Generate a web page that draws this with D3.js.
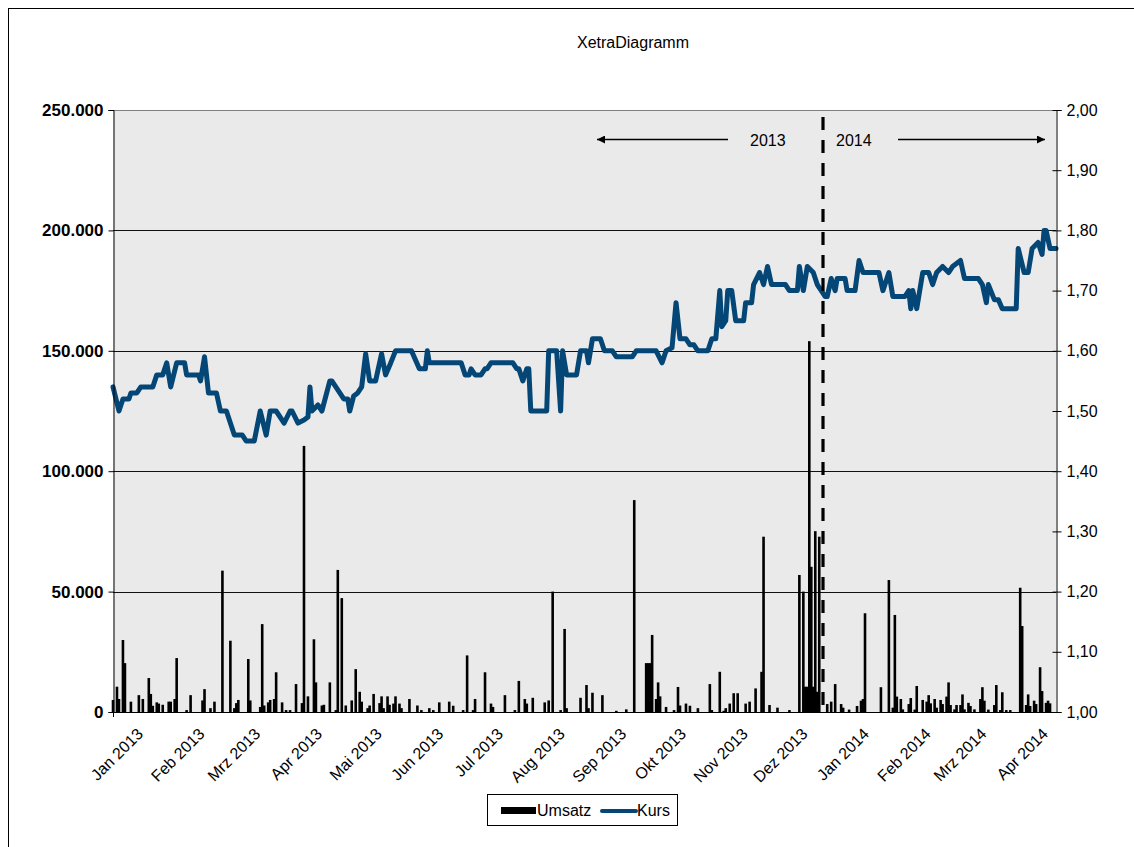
<!DOCTYPE html>
<html>
<head>
<meta charset="utf-8">
<script src="https://cdn.jsdelivr.net/npm/d3@7"></script>
<style>
  body { margin: 0; background: #fff; }
  svg { display: block; font-family: "Liberation Sans", Arial, sans-serif; }
</style>
</head>
<body>
<script>
// month names as shown on the axis
const months = ["Jan", "Feb", "Mrz", "Apr", "Mai", "Jun", "Jul", "Aug", "Sep", "Okt", "Nov", "Dez"];

// daily share price (Kurs), right axis
const kurs = [
  ["2013-01-01",1.54],["2013-01-04",1.50],["2013-01-06",1.52],["2013-01-09",1.52],["2013-01-10",1.53],["2013-01-13",1.53],
  ["2013-01-15",1.54],["2013-01-21",1.54],["2013-01-23",1.56],["2013-01-26",1.56],["2013-01-28",1.58],["2013-01-30",1.54],
  ["2013-02-02",1.58],["2013-02-06",1.58],["2013-02-07",1.56],["2013-02-13",1.56],["2013-02-14",1.55],["2013-02-16",1.59],
  ["2013-02-18",1.53],["2013-02-22",1.53],["2013-02-24",1.50],["2013-02-27",1.50],["2013-03-03",1.46],["2013-03-07",1.46],
  ["2013-03-09",1.45],["2013-03-13",1.45],["2013-03-16",1.50],["2013-03-19",1.46],["2013-03-21",1.50],["2013-03-24",1.50],
  ["2013-03-28",1.48],["2013-03-31",1.50],["2013-04-01",1.50],["2013-04-04",1.48],["2013-04-07",1.485],["2013-04-09",1.49],
  ["2013-04-10",1.54],["2013-04-11",1.50],["2013-04-14",1.51],["2013-04-16",1.50],["2013-04-20",1.55],["2013-04-21",1.55],
  ["2013-04-25",1.53],["2013-04-27",1.52],["2013-04-29",1.52],["2013-04-30",1.50],["2013-05-02",1.525],["2013-05-04",1.53],
  ["2013-05-06",1.54],["2013-05-08",1.595],["2013-05-10",1.55],["2013-05-13",1.55],["2013-05-16",1.595],["2013-05-18",1.56],
  ["2013-05-20",1.575],["2013-05-23",1.60],["2013-05-31",1.60],["2013-06-04",1.57],["2013-06-07",1.57],["2013-06-08",1.60],
  ["2013-06-09",1.58],["2013-06-25",1.58],["2013-06-27",1.56],["2013-06-29",1.56],["2013-06-30",1.57],["2013-07-02",1.56],
  ["2013-07-05",1.56],["2013-07-07",1.57],["2013-07-08",1.57],["2013-07-10",1.58],["2013-07-21",1.58],["2013-07-23",1.57],
  ["2013-07-24",1.57],["2013-07-26",1.55],["2013-07-28",1.57],["2013-07-29",1.57],["2013-07-30",1.50],["2013-08-07",1.50],
  ["2013-08-08",1.60],["2013-08-12",1.60],["2013-08-14",1.50],["2013-08-15",1.60],["2013-08-17",1.56],["2013-08-22",1.56],
  ["2013-08-24",1.60],["2013-08-27",1.60],["2013-08-28",1.58],["2013-08-30",1.62],["2013-09-03",1.62],["2013-09-05",1.60],
  ["2013-09-09",1.60],["2013-09-11",1.59],["2013-09-19",1.59],["2013-09-21",1.60],["2013-10-01",1.60],["2013-10-04",1.58],
  ["2013-10-06",1.60],["2013-10-09",1.605],["2013-10-11",1.68],["2013-10-13",1.62],["2013-10-16",1.62],["2013-10-18",1.61],
  ["2013-10-20",1.61],["2013-10-22",1.60],["2013-10-27",1.60],["2013-10-29",1.62],["2013-10-31",1.62],["2013-11-02",1.70],
  ["2013-11-03",1.64],["2013-11-05",1.65],["2013-11-06",1.70],["2013-11-08",1.70],["2013-11-10",1.65],["2013-11-14",1.65],
  ["2013-11-15",1.68],["2013-11-18",1.68],["2013-11-19",1.71],["2013-11-22",1.73],["2013-11-24",1.71],["2013-11-26",1.74],
  ["2013-11-28",1.71],["2013-12-05",1.71],["2013-12-07",1.70],["2013-12-11",1.70],["2013-12-12",1.74],["2013-12-14",1.70],
  ["2013-12-16",1.74],["2013-12-19",1.73],["2013-12-21",1.71],["2013-12-25",1.69],["2013-12-26",1.69],["2013-12-28",1.72],
  ["2013-12-30",1.70],["2013-12-31",1.72],["2014-01-04",1.72],["2014-01-05",1.70],["2014-01-09",1.70],["2014-01-11",1.75],
  ["2014-01-13",1.73],["2014-01-21",1.73],["2014-01-23",1.70],["2014-01-26",1.73],["2014-01-28",1.69],["2014-02-03",1.69],
  ["2014-02-05",1.70],["2014-02-06",1.67],["2014-02-07",1.70],["2014-02-09",1.67],["2014-02-12",1.73],["2014-02-15",1.73],
  ["2014-02-17",1.71],["2014-02-19",1.73],["2014-02-22",1.74],["2014-02-25",1.73],["2014-02-27",1.74],["2014-03-03",1.75],
  ["2014-03-05",1.72],["2014-03-12",1.72],["2014-03-14",1.71],["2014-03-16",1.68],["2014-03-17",1.71],["2014-03-20",1.685],
  ["2014-03-22",1.685],["2014-03-24",1.67],["2014-03-31",1.67],["2014-04-01",1.77],["2014-04-04",1.73],["2014-04-06",1.73],
  ["2014-04-08",1.77],["2014-04-11",1.78],["2014-04-13",1.76],["2014-04-14",1.80],["2014-04-15",1.80],["2014-04-17",1.77],
  ["2014-04-20",1.77]
];

// daily turnover (Umsatz), left axis
const umsatz = [
  ["2013-01-01",5000],["2013-01-03",10500],["2013-01-04",5400],["2013-01-06",29900],["2013-01-07",20300],["2013-01-10",4300],
  ["2013-01-14",7000],["2013-01-16",5400],["2013-01-19",14100],["2013-01-20",7500],["2013-01-21",2600],["2013-01-23",4000],
  ["2013-01-24",3500],["2013-01-26",3000],["2013-01-29",4300],["2013-01-30",4300],["2013-02-01",5400],["2013-02-02",22400],
  ["2013-02-07",800],["2013-02-09",7000],["2013-02-15",4800],["2013-02-16",9500],["2013-02-19",1600],["2013-02-21",4300],
  ["2013-02-25",58700],["2013-03-01",29600],["2013-03-03",1600],["2013-03-04",3700],["2013-03-05",5000],["2013-03-10",22000],
  ["2013-03-11",4800],["2013-03-16",2100],["2013-03-17",36500],["2013-03-18",2700],["2013-03-20",4000],["2013-03-21",5000],
  ["2013-03-23",5400],["2013-03-24",16500],["2013-03-27",4000],["2013-03-29",800],["2013-03-31",800],["2013-04-03",11600],
  ["2013-04-06",3700],["2013-04-07",110500],["2013-04-09",6500],["2013-04-12",30200],["2013-04-13",12300],["2013-04-16",2700],
  ["2013-04-17",3000],["2013-04-20",12300],["2013-04-23",800],["2013-04-24",59000],["2013-04-26",47300],["2013-04-28",2700],
  ["2013-05-01",4800],["2013-05-03",17800],["2013-05-05",8400],["2013-05-06",4300],["2013-05-09",1600],["2013-05-10",2700],
  ["2013-05-12",7500],["2013-05-15",3700],["2013-05-16",6500],["2013-05-17",1600],["2013-05-19",6500],["2013-05-20",3000],
  ["2013-05-22",3500],["2013-05-23",6500],["2013-05-25",3500],["2013-05-26",1600],["2013-05-30",5400],["2013-06-03",2700],
  ["2013-06-05",800],["2013-06-09",1600],["2013-06-11",800],["2013-06-14",4000],["2013-06-19",4300],["2013-06-21",2600],
  ["2013-06-26",800],["2013-06-28",23500],["2013-07-01",800],["2013-07-02",5400],["2013-07-07",16500],["2013-07-10",3500],
  ["2013-07-11",2100],["2013-07-17",7000],["2013-07-22",800],["2013-07-24",12900],["2013-07-27",5400],["2013-07-28",3500],
  ["2013-07-31",5900],["2013-08-06",4000],["2013-08-08",4800],["2013-08-10",50000],["2013-08-14",800],["2013-08-16",34500],
  ["2013-08-17",1600],["2013-08-24",5900],["2013-08-27",11200],["2013-08-28",1600],["2013-08-30",8000],["2013-09-04",7000],
  ["2013-09-11",500],["2013-09-16",1100],["2013-09-20",88000],["2013-09-26",20300],["2013-09-27",20300],["2013-09-28",20300],
  ["2013-09-29",32000],["2013-10-01",5400],["2013-10-02",12300],["2013-10-03",6500],["2013-10-06",2100],["2013-10-10",800],
  ["2013-10-12",10400],["2013-10-13",2700],["2013-10-16",3500],["2013-10-18",2600],["2013-10-22",1600],["2013-10-28",11600],
  ["2013-10-29",800],["2013-11-02",16700],["2013-11-04",500],["2013-11-05",1600],["2013-11-07",3500],["2013-11-09",7800],
  ["2013-11-11",7800],["2013-11-15",3500],["2013-11-17",4300],["2013-11-20",9800],["2013-11-23",16700],["2013-11-24",72800],
  ["2013-11-27",2900],["2013-12-01",1800],["2013-12-07",800],["2013-12-12",56900],["2013-12-14",50000],["2013-12-15",10500],
  ["2013-12-16",10500],["2013-12-17",154000],["2013-12-18",60300],["2013-12-19",10500],["2013-12-20",75100],["2013-12-21",8400],
  ["2013-12-22",72800],["2013-12-26",3300],["2013-12-28",4300],["2013-12-30",11600],["2014-01-02",3300],["2014-01-03",1800],
  ["2014-01-06",1000],["2014-01-10",2500],["2014-01-12",4700],["2014-01-13",5400],["2014-01-14",41000],["2014-01-22",10300],
  ["2014-01-26",54800],["2014-01-28",1800],["2014-01-29",40300],["2014-01-30",6400],["2014-02-01",5400],["2014-02-02",1100],
  ["2014-02-05",3300],["2014-02-06",5800],["2014-02-08",1000],["2014-02-09",10800],["2014-02-12",5000],["2014-02-14",4300],
  ["2014-02-15",7000],["2014-02-16",3600],["2014-02-18",5400],["2014-02-19",1800],["2014-02-21",5000],["2014-02-22",3300],
  ["2014-02-24",6400],["2014-02-25",12300],["2014-02-26",2900],["2014-02-28",1100],["2014-03-01",2900],["2014-03-03",2900],
  ["2014-03-04",7300],["2014-03-05",1100],["2014-03-07",3800],["2014-03-08",2500],["2014-03-10",1100],["2014-03-13",5400],
  ["2014-03-14",10300],["2014-03-15",4700],["2014-03-17",1000],["2014-03-20",2900],["2014-03-21",11200],["2014-03-23",800],
  ["2014-03-24",8200],["2014-03-26",800],["2014-03-28",800],["2014-04-02",51600],["2014-04-03",35700],["2014-04-05",2900],
  ["2014-04-06",7300],["2014-04-07",2500],["2014-04-09",4700],["2014-04-10",3300],["2014-04-12",18600],["2014-04-13",8700],
  ["2014-04-15",3800],["2014-04-16",4700],["2014-04-17",3600]
];

const dateRange = ["2013-01-01", "2014-04-20"];
const yearSplit = "2013-12-24";
const yearLabels = ["2013", "2014"];
const leftTicks = [0, 50000, 100000, 150000, 200000, 250000];
const rightTicks = [1.0, 1.1, 1.2, 1.3, 1.4, 1.5, 1.6, 1.7, 1.8, 1.9, 2.0];

const W = 1134, H = 847;
const plot = { left: 113, right: 1056, top: 110, bottom: 712 };
const parse = d3.utcParse("%Y-%m-%d");
const de = d3.formatLocale({ decimal: ",", thousands: ".", grouping: [3], currency: ["", " €"] });
const fmtLeft = de.format(",d"), fmtRight = de.format(",.2f");

const svg = d3.select("body").append("svg")
  .attr("width", W)
  .attr("height", H);

// outer chart frame
svg.append("rect")
  .attr("x", 8.5).attr("y", 8.5)
  .attr("width", W + 20).attr("height", H + 20)
  .attr("fill", "#fff").attr("stroke", "#000");

svg.append("text")
  .attr("x", 633).attr("y", 48)
  .attr("text-anchor", "middle")
  .attr("font-size", 16)
  .text("XetraDiagramm");

// scales
const x = d3.scaleUtc().domain(dateRange.map(parse)).range([plot.left, plot.right]);
const yL = d3.scaleLinear().domain([0, 250000]).range([plot.bottom, plot.top]);
const yR = d3.scaleLinear().domain([1, 2]).range([plot.bottom, plot.top]);

// plot area
svg.append("rect")
  .attr("x", plot.left).attr("y", plot.top)
  .attr("width", plot.right - plot.left).attr("height", plot.bottom - plot.top)
  .attr("fill", "#eaeaea");

svg.append("line")
  .attr("x1", plot.left).attr("x2", plot.right)
  .attr("y1", plot.top + 0.5).attr("y2", plot.top + 0.5)
  .attr("stroke", "#808080");

// gridlines
svg.append("g")
  .selectAll("line")
  .data(leftTicks.slice(1, -1))
  .enter().append("line")
  .attr("x1", plot.left).attr("x2", plot.right)
  .attr("y1", d => Math.round(yL(d)) + 0.5).attr("y2", d => Math.round(yL(d)) + 0.5)
  .attr("stroke", "#111");

// Umsatz bars
svg.append("g")
  .selectAll("rect")
  .data(umsatz)
  .enter().append("rect")
  .attr("x", d => x(parse(d[0])) - 1.3)
  .attr("width", 2.6)
  .attr("y", d => yL(d[1]))
  .attr("height", d => plot.bottom - yL(d[1]))
  .attr("fill", "#000");

// Kurs line
const line = d3.line()
  .x(d => x(parse(d[0])))
  .y(d => yR(d[1]));
svg.append("path")
  .datum(kurs)
  .attr("d", line)
  .attr("fill", "none")
  .attr("stroke", "#044675")
  .attr("stroke-width", 5)
  .attr("stroke-linejoin", "round")
  .attr("stroke-linecap", "round");

// left axis
const axL = svg.append("g").attr("transform", `translate(${plot.left + 0.5},0)`)
  .call(d3.axisLeft(yL).tickValues(leftTicks).tickFormat(fmtLeft).tickSize(5).tickPadding(5));
axL.selectAll("text").attr("font-size", 17).attr("font-weight", "bold").attr("font-family", "Liberation Sans, Arial").attr("fill", "#000");
axL.select(".domain").attr("stroke", "#000");

// right axis
const axR = svg.append("g").attr("transform", `translate(${plot.right + 0.5},0)`)
  .call(d3.axisRight(yR).tickValues(rightTicks).tickFormat(fmtRight).tickSize(5).tickPadding(5));
axR.selectAll(".tick line").attr("x1", -4);
axR.selectAll("text").attr("font-size", 16).attr("font-family", "Liberation Sans, Arial").attr("fill", "#000");
axR.select(".domain").attr("stroke", "#000");

// bottom axis
svg.append("line")
  .attr("x1", plot.left).attr("x2", plot.right)
  .attr("y1", plot.bottom + 0.5).attr("y2", plot.bottom + 0.5)
  .attr("stroke", "#000");
svg.append("line")
  .attr("x1", plot.left + 0.5).attr("x2", plot.left + 0.5)
  .attr("y1", plot.bottom).attr("y2", plot.bottom + 5)
  .attr("stroke", "#000");

const monthTicks = d3.utcMonth.range(parse("2013-01-01"), parse("2014-04-02"));
svg.append("g")
  .selectAll("text")
  .data(monthTicks)
  .enter().append("text")
  .attr("transform", d => `translate(${x(d) + 27},731) rotate(-45)`)
  .attr("text-anchor", "end")
  .attr("dy", "0.35em")
  .attr("font-size", 16)
  .text(d => months[d.getUTCMonth()] + " " + d.getUTCFullYear());

// year split marker
const xs = Math.round(x(parse(yearSplit)));
svg.append("line")
  .attr("x1", xs).attr("x2", xs)
  .attr("y1", 117).attr("y2", plot.bottom)
  .attr("stroke", "#000")
  .attr("stroke-width", 3.2)
  .attr("stroke-dasharray", "13,10");

const defs = svg.append("defs");
defs.append("marker")
  .attr("id", "head")
  .attr("viewBox", "0 0 10 10")
  .attr("refX", 10).attr("refY", 5)
  .attr("markerWidth", 11).attr("markerHeight", 8)
  .attr("markerUnits", "userSpaceOnUse")
  .attr("orient", "auto")
  .append("path").attr("d", "M0,0L10,5L0,10Z").attr("fill", "#000");

const ann = svg.append("g");
ann.append("line").attr("x1", 728).attr("x2", 597).attr("y1", 139.5).attr("y2", 139.5)
  .attr("stroke", "#000").attr("stroke-width", 1.3).attr("marker-end", "url(#head)");
ann.append("line").attr("x1", 898).attr("x2", 1045).attr("y1", 139.5).attr("y2", 139.5)
  .attr("stroke", "#000").attr("stroke-width", 1.3).attr("marker-end", "url(#head)");
ann.selectAll("text")
  .data(yearLabels)
  .enter().append("text")
  .attr("x", (d, i) => i ? 836 : 750)
  .attr("y", 146)
  .attr("font-size", 16)
  .text(d => d);

// legend
const lg = svg.append("g");
lg.append("rect")
  .attr("x", 487.5).attr("y", 794.5).attr("width", 190).attr("height", 31)
  .attr("fill", "#fff").attr("stroke", "#000");
lg.append("rect")
  .attr("x", 501).attr("y", 807).attr("width", 35).attr("height", 7).attr("fill", "#000");
lg.append("text").attr("x", 537).attr("y", 816).attr("font-size", 16).text("Umsatz");
lg.append("line")
  .attr("x1", 602).attr("x2", 636).attr("y1", 811).attr("y2", 811)
  .attr("stroke", "#044675").attr("stroke-width", 4).attr("stroke-linecap", "round");
lg.append("text").attr("x", 637).attr("y", 816).attr("font-size", 16).text("Kurs");
</script>
</body>
</html>
